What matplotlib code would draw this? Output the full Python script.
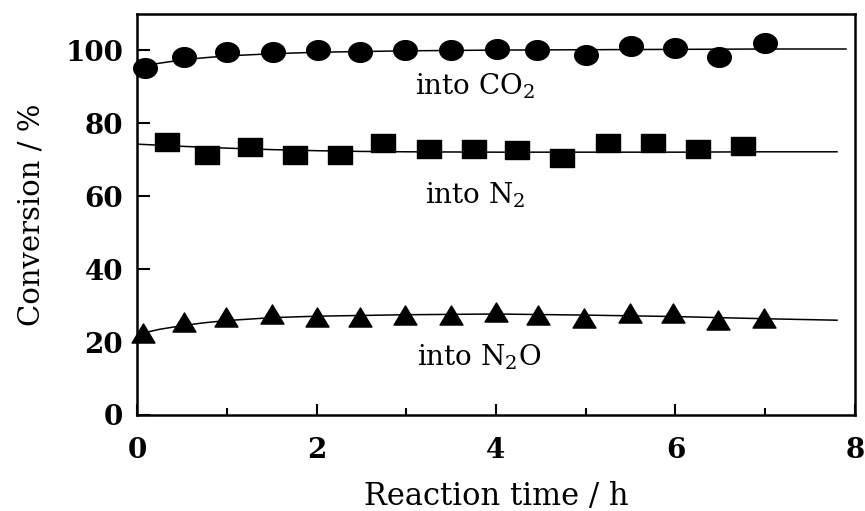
import numpy as np
import matplotlib
matplotlib.use('Agg')
import matplotlib.pyplot as plt
from matplotlib.path import Path

# measured points
time_co2 = [0.09, 0.52, 1.0, 1.51, 2.02, 2.48, 2.99, 3.5, 4.01, 4.46, 5.0, 5.5, 5.99, 6.49, 7.0]
conv_co2 = [95.2, 98.2, 99.5, 99.5, 100.0, 99.5, 100.0, 100.0, 100.4, 100.0, 98.8, 101.2, 100.6, 98.2, 102.0]

time_n2 = [0.33, 0.78, 1.26, 1.76, 2.26, 2.74, 3.25, 3.75, 4.23, 4.73, 5.25, 5.75, 6.25, 6.75]
conv_n2 = [74.9, 71.3, 73.6, 71.3, 71.3, 74.7, 73.1, 73.1, 72.6, 70.4, 74.7, 74.7, 73.1, 73.9]

time_n2o = [0.07, 0.52, 0.99, 1.5, 2.01, 2.48, 2.99, 3.5, 4.0, 4.47, 4.98, 5.49, 5.97, 6.47, 6.99]
conv_n2o = [22.6, 25.6, 26.9, 27.6, 26.9, 26.9, 27.4, 27.4, 28.2, 27.3, 26.7, 28.1, 28.1, 26.0, 26.7]

# fitted curves
fit_t_co2 = [0.0, 0.25, 0.5, 0.75, 1.0, 1.5, 2.0, 3.0, 4.0, 5.0, 6.0, 7.0, 7.9]
fit_co2 = [95.4, 96.5, 97.4, 98.0, 98.5, 99.1, 99.5, 99.9, 100.1, 100.2, 100.3, 100.4, 100.4]

fit_t_n2 = [0.0, 0.5, 1.0, 1.5, 2.0, 2.5, 3.0, 4.0, 5.0, 6.0, 7.0, 7.8]
fit_n2 = [74.3, 73.7, 73.2, 72.8, 72.5, 72.3, 72.2, 72.1, 72.1, 72.1, 72.2, 72.2]

fit_t_n2o = [0.0, 0.25, 0.5, 0.75, 1.0, 1.5, 2.0, 3.0, 4.0, 5.0, 6.0, 7.0, 7.8]
fit_n2o = [22.1, 23.5, 24.5, 25.3, 25.9, 26.7, 27.1, 27.5, 27.7, 27.4, 27.0, 26.4, 26.0]

labels = ['into CO$_2$', 'into N$_2$', 'into N$_2$O']

plt.rcParams['font.family'] = ['DejaVu Serif']
plt.rcParams['mathtext.fontset'] = 'dejavuserif'

# the original is a bit stretched sideways, so the markers are too
theta = np.linspace(0, 2*np.pi, 60)
ellipse = Path(np.column_stack([1.2*np.cos(theta), np.sin(theta)]), closed=True)
rect = Path([(-1.25, -1), (1.25, -1), (1.25, 1), (-1.25, 1), (-1.25, -1)], closed=True)
tri = Path([(0, 1), (-1.2, -1), (1.2, -1), (0, 1)], closed=True)

fig = plt.figure(figsize=(8.65, 5.11), dpi=100)
ax = fig.add_axes([0.1584, 0.1879, 0.83, 0.7847])

ax.plot(fit_t_co2, fit_co2, color='black', lw=1.1)
ax.plot(fit_t_n2, fit_n2, color='black', lw=1.1)
ax.plot(fit_t_n2o, fit_n2o, color='black', lw=1.1)
ax.plot(time_co2, conv_co2, ls='none', marker=ellipse, ms=17, color='black', clip_on=False)
ax.plot(time_n2, conv_n2, ls='none', marker=rect, ms=17, color='black', clip_on=False)
ax.plot(time_n2o, conv_n2o, ls='none', marker=tri, ms=16.5, color='black', clip_on=False)

ax.text(3.1, 88.0, labels[0], fontsize=20)
ax.text(3.21, 57.9, labels[1], fontsize=20)
ax.text(3.12, 13.5, labels[2], fontsize=20)

ax.set_xlim(0, 8)
ax.set_ylim(0, 110)
ax.set_xticks([0, 2, 4, 6, 8])
ax.set_xticks([1, 3, 5, 7], minor=True)
ax.set_yticks([0, 20, 40, 60, 80, 100])
ax.tick_params(axis='both', which='both', direction='in', top=False, right=False, width=1.5)
ax.tick_params(axis='x', which='major', length=8, pad=16, labelsize=20)
ax.tick_params(axis='x', which='minor', length=5)
ax.tick_params(axis='y', which='major', length=9.5, pad=10, labelsize=20)
for lab in ax.get_xticklabels() + ax.get_yticklabels():
    lab.set_fontweight('bold')
for sp in ax.spines.values():
    sp.set_linewidth(1.8)

ax.set_xlabel('Reaction time / h', fontsize=22, labelpad=12)
ax.set_ylabel('Conversion / %', fontsize=21, labelpad=14)

fig.savefig('out.png', dpi=100)
